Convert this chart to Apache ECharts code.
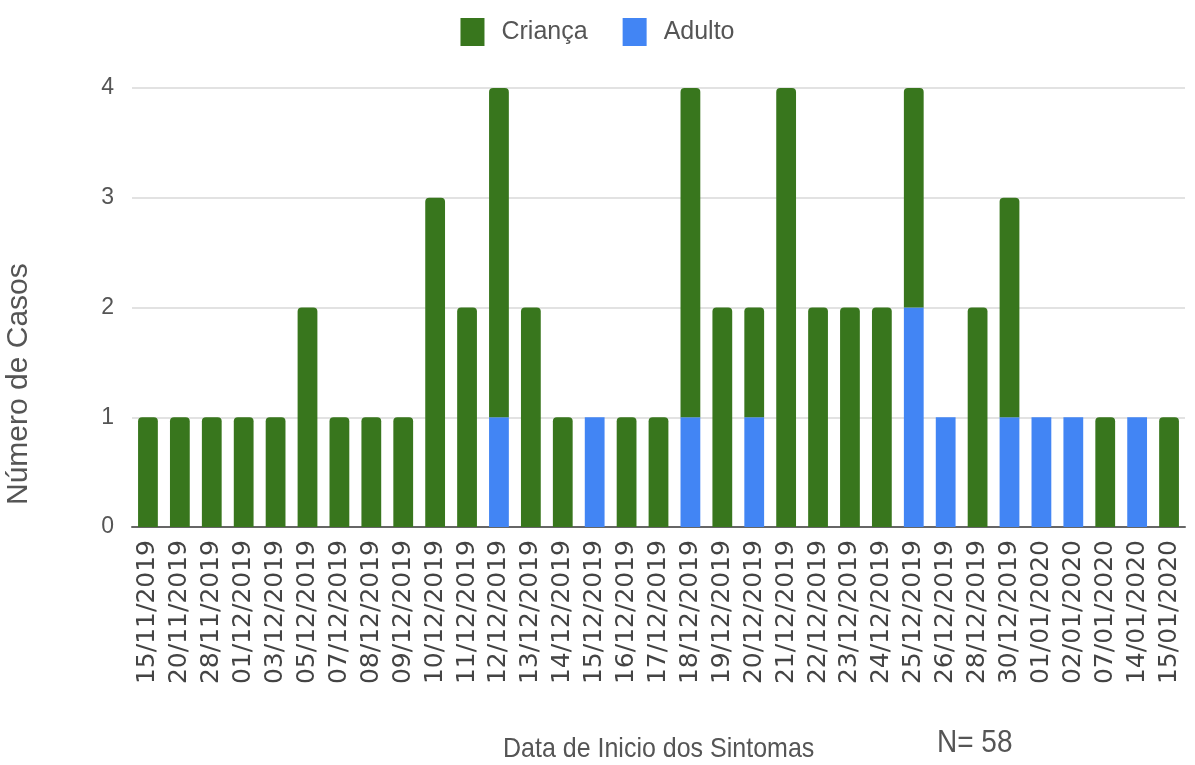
<!DOCTYPE html>
<html>
<head>
<meta charset="utf-8" />
<title>Casos</title>
<script src="https://cdn.jsdelivr.net/npm/echarts@6/dist/echarts.min.js"></script>
<style>
	* { margin: 0; padding: 0; }
	html, body { width: 100%; height: 100%; background: #fff; }
	#main { width: 1195px; height: 765px; }
</style>
</head>
<body>
<div id="main"></div>
<script>
	var dates = ['15/11/2019', '20/11/2019', '28/11/2019', '01/12/2019', '03/12/2019', '05/12/2019',
		'07/12/2019', '08/12/2019', '09/12/2019', '10/12/2019', '11/12/2019', '12/12/2019',
		'13/12/2019', '14/12/2019', '15/12/2019', '16/12/2019', '17/12/2019', '18/12/2019',
		'19/12/2019', '20/12/2019', '21/12/2019', '22/12/2019', '23/12/2019', '24/12/2019',
		'25/12/2019', '26/12/2019', '28/12/2019', '30/12/2019', '01/01/2020', '02/01/2020',
		'07/01/2020', '14/01/2020', '15/01/2020'];
	var adulto = [0, 0, 0, 0, 0, 0, 0, 0, 0, 0, 0, 1, 0, 0, 1, 0, 0, 1, 0, 1, 0, 0, 0, 0, 2, 1, 0, 1, 1, 1, 0, 1, 0];
	var crianca = [1, 1, 1, 1, 1, 2, 1, 1, 1, 3, 2, 3, 2, 1, 0, 1, 1, 3, 2, 1, 4, 2, 2, 2, 2, 0, 2, 2, 0, 0, 1, 0, 1];
	var yTicks = [0, 1, 2, 3, 4];

	var font = 'Liberation Sans, Arial, sans-serif';
	var myChart = echarts.init(document.getElementById('main'));
	myChart.setOption({
		animation: false,
		color: ['#38761d', '#4285f4'],
		legend: {
			top: 13,
			left: 'center',
			itemWidth: 24,
			itemHeight: 28,
			itemGap: 35,
			icon: 'rect',
			textStyle: { fontFamily: font, fontSize: 25, color: '#555', padding: [0, 0, 0, 12] },
			data: ['Criança', 'Adulto']
		},
		grid: { left: 132, right: 10, top: 88, bottom: 238 },
		xAxis: {
			type: 'category',
			data: dates,
			axisTick: { show: false },
			axisLine: { lineStyle: { color: '#666', width: 2 } },
			axisLabel: {
				rotate: 90,
				interval: 0,
				margin: 13,
				fontFamily: 'DejaVu Sans, sans-serif',
				fontSize: 25,
				color: '#444'
			}
		},
		yAxis: {
			type: 'value',
			min: yTicks[0],
			max: yTicks[yTicks.length - 1],
			interval: 1,
			axisLine: { show: false },
			axisTick: { show: false },
			splitLine: { lineStyle: { color: '#e2e2e2', width: 2 } },
			axisLabel: { margin: 18, fontFamily: font, fontSize: 23, color: '#555' }
		},
		series: [{
			name: 'Adulto',
			type: 'bar',
			stack: 'casos',
			barWidth: '62%',
			itemStyle: { color: '#4285f4' },
			data: adulto
		}, {
			name: 'Criança',
			type: 'bar',
			stack: 'casos',
			barWidth: '62%',
			itemStyle: { color: '#38761d', borderRadius: [4, 4, 0, 0] },
			data: crianca
		}],
		graphic: [{
			type: 'text',
			x: 4,
			y: 505,
			rotation: Math.PI / 2,
			style: {
				text: 'Número de Casos',
				fontFamily: font,
				fontSize: 30,
				fill: '#555'
			}
		}, {
			type: 'text',
			x: 503,
			y: 735,
			scaleY: 1.12,
			style: {
				text: 'Data de Inicio dos Sintomas',
				fontFamily: font,
				fontSize: 25,
				fill: '#555'
			}
		}, {
			type: 'text',
			x: 937,
			y: 728,
			scaleY: 1.12,
			style: {
				text: 'N= 58',
				fontFamily: font,
				fontSize: 28,
				fill: '#555'
			}
		}]
	});
</script>
</body>
</html>
